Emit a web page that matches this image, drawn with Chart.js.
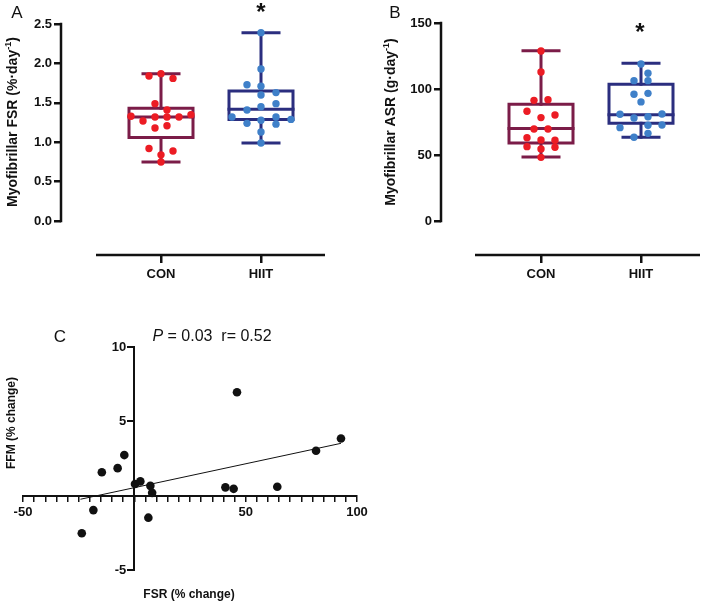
<!DOCTYPE html>
<html>
<head>
<meta charset="utf-8">
<script src="https://cdn.jsdelivr.net/npm/chart.js@4.4.0/dist/chart.umd.min.js"></script>
<style>
body { margin: 0; background: #fff; }
#wrap { position: relative; width: 709px; height: 604px; }
canvas { position: absolute; }
</style>
</head>
<body>
<div id="wrap">
<canvas id="fsrChart" width="350" height="300" style="left:0;top:0"></canvas>
<canvas id="asrChart" width="359" height="300" style="left:350px;top:0"></canvas>
<canvas id="corrChart" width="380" height="304" style="left:0;top:300px"></canvas>
</div>
<script>
const groups = ['CON', 'HIIT'];

// A: myofibrillar FSR (%/day), box stats are [min, q1, median, q3, max]
const fsrTicks = [0, 0.5, 1.0, 1.5, 2.0, 2.5];
const fsrConBox = [0.75, 1.06, 1.32, 1.43, 1.87];
const fsrHiitBox = [0.99, 1.29, 1.42, 1.65, 2.39];
const fsrCon = [1.84, 1.87, 1.81, 1.49, 1.41, 1.33, 1.27, 1.32, 1.32, 1.32, 1.35, 1.18, 1.21, 0.92, 0.89, 0.84, 0.75];
const fsrConJitter = [-0.12, 0, 0.12, -0.06, 0.06, -0.30, -0.18, -0.06, 0.06, 0.18, 0.30, -0.06, 0.06, -0.12, 0.12, 0, 0];
const fsrHiit = [2.39, 1.93, 1.73, 1.71, 1.60, 1.63, 1.41, 1.45, 1.49, 1.32, 1.24, 1.28, 1.32, 1.29, 1.23, 1.13, 0.99];
const fsrHiitJitter = [0, 0, -0.14, 0, 0, 0.15, -0.14, 0, 0.15, -0.29, -0.14, 0, 0.15, 0.30, 0.15, 0, 0];

// B: myofibrillar ASR (g/day)
const asrTicks = [0, 50, 100, 150];
const asrConBox = [48.5, 59, 70, 88.5, 129];
const asrHiitBox = [63.5, 74, 80.5, 103.5, 119.5];
const asrCon = [128.8, 112.9, 91.4, 91.9, 83.1, 78.3, 80.3, 69.7, 69.7, 63.1, 61.4, 61.1, 56.3, 54.5, 55.8, 48.2];
const asrConJitter = [0, 0, -0.07, 0.07, -0.14, 0, 0.14, -0.07, 0.07, -0.14, 0, 0.14, -0.14, 0, 0.14, 0];
const asrHiit = [118.9, 111.9, 106.3, 106.3, 96.0, 96.7, 90.2, 80.8, 78.0, 79.0, 81.1, 70.7, 72.5, 72.7, 63.4, 66.4];
const asrHiitJitter = [0, 0.07, -0.07, 0.07, -0.07, 0.07, 0, -0.21, -0.07, 0.07, 0.21, -0.21, 0.07, 0.21, -0.07, 0.07];

// C: % change FSR vs % change FFM
const fsrChange = [-23.6, -18.4, -14.6, -7.5, -4.5, 0.3, 2.7, 7.2, 8.0, 6.3, 40.9, 44.6, 46.1, 64.2, 81.6, 92.8];
const ffmChange = [-2.53, -0.97, 1.58, 1.85, 2.73, 0.78, 0.96, 0.66, 0.19, -1.48, 0.56, 0.46, 6.96, 0.60, 3.02, 3.85];
const fitX = [-24.2, 92.8];
const fitY = [-0.24, 3.52];
const corrXLabels = [-50, 50, 100];
const corrYTicks = [-5, 5, 10];

const black = '#111';
const conLine = '#7b1c48', conDot = '#ec1c24';
const hiitLine = '#2b2e7f', hiitDot = '#3f80c9';
const family = "'Liberation Sans', Arial, sans-serif";
Chart.defaults.font.family = family;

function boxSets(center, s, color) {
    const w = 0.32, cap = 0.18;
    const line = pts => ({
        type: 'scatter', data: pts, showLine: true, borderColor: color, borderWidth: 3,
        pointRadius: 0, order: 2, borderJoinStyle: 'miter', borderCapStyle: 'square'
    });
    return [
        line([{ x: center, y: s[4] }, { x: center, y: s[3] }]),
        line([{ x: center, y: s[1] }, { x: center, y: s[0] }]),
        line([{ x: center - cap, y: s[4] }, { x: center + cap, y: s[4] }]),
        line([{ x: center - cap, y: s[0] }, { x: center + cap, y: s[0] }]),
        line([{ x: center - w, y: s[1] }, { x: center + w, y: s[1] }, { x: center + w, y: s[3] },
              { x: center - w, y: s[3] }, { x: center - w, y: s[1] }]),
        line([{ x: center - w, y: s[2] }, { x: center + w, y: s[2] }]),
    ];
}

function dotSet(center, vals, jit, color, r) {
    return {
        type: 'scatter', data: vals.map((v, i) => ({ x: center + jit[i], y: v })),
        backgroundColor: color, borderWidth: 0, pointRadius: r, order: 1
    };
}

function drawRich(ctx, it) {
    ctx.save();
    ctx.translate(it.x, it.y);
    if (it.rotate) ctx.rotate(it.rotate);
    ctx.fillStyle = black;
    ctx.textBaseline = 'middle';
    ctx.textAlign = 'left';
    const fonts = it.parts.map(p => (p.italic ? 'italic ' : '') + (it.bold ? 'bold ' : '') +
        (p.sup ? it.size * 0.65 : it.size) + 'px ' + family);
    let total = 0;
    const widths = it.parts.map((p, i) => {
        ctx.font = fonts[i];
        const w = ctx.measureText(p.t).width;
        total += w;
        return w;
    });
    let cx = it.align === 'right' ? -total : -total / 2;
    it.parts.forEach((p, i) => {
        ctx.font = fonts[i];
        ctx.fillText(p.t, cx, p.sup ? -it.size * 0.35 : 0);
        cx += widths[i];
    });
    ctx.restore();
}

const textItems = {
    id: 'textItems',
    afterDraw(chart, args, opts) {
        (opts.items || []).forEach(it => drawRich(chart.ctx, it));
    }
};

// labels for the y axis that crosses at x = 0 (placed left of its tick marks)
const crossLabels = {
    id: 'crossLabels',
    afterDraw(chart, args, opts) {
        const { x, y } = chart.scales;
        const ax = x.getPixelForValue(0);
        opts.values.forEach(v => drawRich(chart.ctx, {
            x: ax - 8, y: y.getPixelForValue(v), size: 13, bold: true, align: 'right',
            parts: [{ t: String(v) }]
        }));
    }
};

// axis lines that stop short of each other, as in the original
const splitAxes = {
    id: 'splitAxes',
    afterDraw(chart, args, opts) {
        if (!opts.yTop) return;
        const { ctx, chartArea, scales: { x, y } } = chart;
        ctx.save();
        ctx.strokeStyle = black;
        ctx.lineWidth = 2.5;
        ctx.beginPath();
        ctx.moveTo(chartArea.left, y.getPixelForValue(opts.yTop) - 1.2);
        ctx.lineTo(chartArea.left, y.getPixelForValue(0) + 1.2);
        ctx.moveTo(x.getPixelForValue(opts.xStart), chartArea.bottom);
        ctx.lineTo(x.getPixelForValue(x.max), chartArea.bottom);
        ctx.stroke();
        ctx.restore();
    }
};

function boxChart(id, o) {
    const tickFont = { family: family, size: 13, weight: 'bold' };
    return new Chart(document.getElementById(id), {
        type: 'scatter',
        data: {
            datasets: [
                dotSet(1, o.con, o.conJit, conDot, 3.7),
                dotSet(2, o.hiit, o.hiitJit, hiitDot, 3.7),
                ...boxSets(1, o.conBox, conLine),
                ...boxSets(2, o.hiitBox, hiitLine),
            ],
        },
        options: {
            responsive: false,
            animation: false,
            events: [],
            layout: { padding: o.padding },
            scales: {
                x: {
                    type: 'linear', min: 0, max: o.xMax,
                    afterFit: s => { s.height = 45; },
                    afterBuildTicks: s => { s.ticks = [{ value: 1 }, { value: 2 }]; },
                    border: { display: false },
                    grid: { drawOnChartArea: false, color: black, lineWidth: 2.5, tickLength: 8 },
                    ticks: { callback: v => groups[v - 1], font: tickFont, color: black, padding: 4, maxRotation: 0 },
                },
                y: {
                    type: 'linear', min: o.yMin, max: o.ticks[o.ticks.length - 1],
                    afterFit: s => { s.width = o.yWidth; },
                    afterBuildTicks: s => { s.ticks = o.ticks.map(v => ({ value: v })); },
                    border: { display: false },
                    grid: { drawOnChartArea: false, color: black, lineWidth: 2.5, tickLength: 7 },
                    ticks: { callback: o.fmt, font: tickFont, color: black, padding: 2 },
                },
            },
            plugins: {
                legend: { display: false },
                tooltip: { enabled: false },
                splitAxes: { yTop: o.ticks[o.ticks.length - 1], xStart: o.xStart },
                textItems: { items: o.items },
            },
        },
        plugins: [splitAxes, textItems],
    });
}

boxChart('fsrChart', {
    con: fsrCon, conJit: fsrConJitter, hiit: fsrHiit, hiitJit: fsrHiitJitter,
    conBox: fsrConBox, hiitBox: fsrHiitBox, ticks: fsrTicks,
    fmt: v => v.toFixed(1), yMin: -0.43, yWidth: 61, xMax: 2.64, xStart: 0.35,
    padding: { left: 0, right: 25, top: 24, bottom: 0 },
    items: [
        { x: 17, y: 13, size: 17, parts: [{ t: 'A' }] },
        { x: 261, y: 13, size: 24, bold: true, parts: [{ t: '*' }] },
        { x: 13, y: 122, size: 14, bold: true, rotate: -Math.PI / 2,
          parts: [{ t: 'Myofibrillar FSR (%·day' }, { t: '-1', sup: true }, { t: ')' }] },
    ],
});

boxChart('asrChart', {
    con: asrCon, conJit: asrConJitter, hiit: asrHiit, hiitJit: asrHiitJitter,
    conBox: asrConBox, hiitBox: asrHiitBox, ticks: asrTicks,
    fmt: v => String(v), yMin: -25.8, yWidth: 91, xMax: 2.59, xStart: 0.34,
    padding: { left: 0, right: 9, top: 23, bottom: 0 },
    items: [
        { x: 45, y: 13, size: 17, parts: [{ t: 'B' }] },
        { x: 290, y: 33, size: 24, bold: true, parts: [{ t: '*' }] },
        { x: 41, y: 122, size: 14, bold: true, rotate: -Math.PI / 2,
          parts: [{ t: 'Myofibrillar ASR (g·day' }, { t: '-1', sup: true }, { t: ')' }] },
    ],
});

// C: correlation panel with axes crossing at zero
const corrFont = { family: family, size: 13, weight: 'bold' };
new Chart(document.getElementById('corrChart'), {
    type: 'scatter',
    data: {
        datasets: [
            {
                data: fsrChange.map((v, i) => ({ x: v, y: ffmChange[i] })),
                backgroundColor: black, borderWidth: 0, pointRadius: 4.3, order: 1,
            },
            {
                data: fitX.map((v, i) => ({ x: v, y: fitY[i] })),
                showLine: true, borderColor: black, borderWidth: 1, pointRadius: 0, order: 2,
            },
        ],
    },
    options: {
        responsive: false,
        animation: false,
        events: [],
        layout: { padding: { left: 23, right: 23, top: 47, bottom: 34 } },
        scales: {
            x: {
                type: 'linear', position: { y: 0 }, min: -50, max: 100,
                afterFit: s => { s.height = 0; },
                border: { color: black, width: 2 },
                grid: { drawOnChartArea: false, color: black, lineWidth: 1.5, tickLength: 5 },
                ticks: {
                    stepSize: 5, autoSkip: false, maxRotation: 0, padding: 4,
                    callback: v => corrXLabels.includes(v) ? String(v) : '',
                    font: corrFont, color: black,
                },
            },
            y: {
                type: 'linear', position: { x: 0 }, min: -5, max: 10,
                afterFit: s => { s.width = 0; },
                afterBuildTicks: s => { s.ticks = corrYTicks.map(v => ({ value: v })); },
                border: { color: black, width: 2 },
                grid: { drawOnChartArea: false, color: black, lineWidth: 2, tickLength: 6 },
                ticks: { display: false },
            },
        },
        plugins: {
            legend: { display: false },
            tooltip: { enabled: false },
            crossLabels: { values: corrYTicks },
            textItems: {
                items: [
                    { x: 60, y: 37, size: 17, parts: [{ t: 'C' }] },
                    { x: 212, y: 37, size: 16, parts: [{ t: 'P', italic: true }, { t: ' = 0.03  r= 0.52' }] },
                    { x: 12, y: 123, size: 12, bold: true, rotate: -Math.PI / 2, parts: [{ t: 'FFM (% change)' }] },
                    { x: 189, y: 295, size: 12, bold: true, parts: [{ t: 'FSR (% change)' }] },
                ],
            },
        },
    },
    plugins: [crossLabels, textItems],
});
</script>
</body>
</html>
